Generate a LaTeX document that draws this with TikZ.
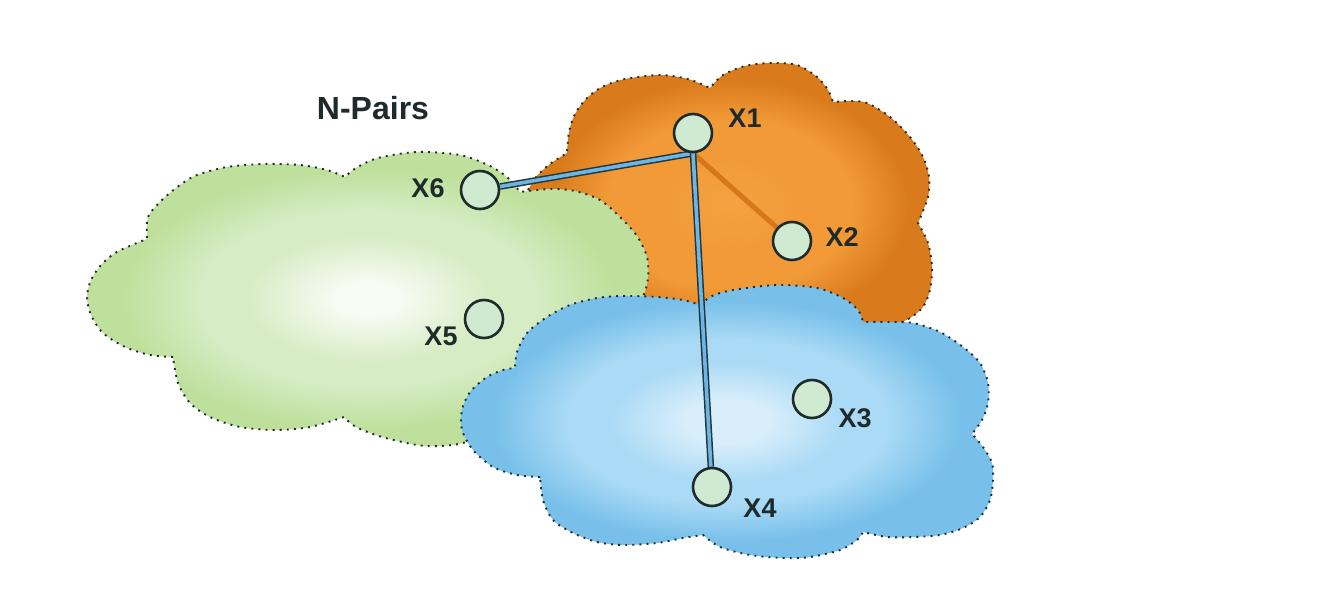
\documentclass[tikz,border=0pt]{standalone}
\usepackage{fontspec}
\setmainfont{Liberation Sans}
\definecolor{ink}{HTML}{1F2B2B}
\definecolor{nodefill}{HTML}{D0EAD2}
\definecolor{linkblue}{HTML}{6DB5E2}
\definecolor{linkedge}{HTML}{24363C}
\definecolor{orline}{HTML}{D5771A}
\definecolor{orin}{HTML}{F4A242}
\definecolor{ormid}{HTML}{F29A38}
\definecolor{orout}{HTML}{D97B1C}
\definecolor{grin}{HTML}{F7FBF2}
\definecolor{grmid}{HTML}{D6ECC4}
\definecolor{grout}{HTML}{BEE09C}
\definecolor{blin}{HTML}{D8EEFB}
\definecolor{blmid}{HTML}{AADAF5}
\definecolor{blout}{HTML}{78C0EA}
\pgfdeclareradialshading{orangeshade}{\pgfpoint{0bp}{0bp}}{color(0bp)=(orin); color(8bp)=(ormid); color(15bp)=(ormid); color(22bp)=(orout); color(50bp)=(orout)}
\pgfdeclareradialshading{greenshade}{\pgfpoint{0bp}{0bp}}{color(0bp)=(grin); color(3bp)=(grin); color(11bp)=(grmid); color(15bp)=(grmid); color(22bp)=(grout); color(50bp)=(grout)}
\pgfdeclareradialshading{blueshade}{\pgfpoint{0bp}{0bp}}{color(0bp)=(blin); color(4bp)=(blin); color(11bp)=(blmid); color(15bp)=(blmid); color(22bp)=(blout); color(50bp)=(blout)}
\pgfdeclarelayer{back}
\pgfdeclarelayer{edges}
\pgfsetlayers{back,edges,main}
\tikzset{
  cloudline/.style={draw=ink, line width=1.9pt, dash pattern=on 1.9pt off 5.2pt},
  pt/.style={circle, draw=ink, line width=2.6pt, fill=nodefill, minimum size=38pt, inner sep=0pt},
  lbl/.style={font=\bfseries\fontsize{27}{27}\selectfont, text=ink, anchor=base, inner sep=0pt},
  ttl/.style={font=\bfseries\fontsize{32}{32}\selectfont, text=ink, anchor=base, inner sep=0pt},
  bluelink/.style={draw=linkedge, line width=1.5pt, double=linkblue, double distance=3.6pt},
  orangelink/.style={draw=orline, line width=5pt}
}
\begin{document}
\begin{tikzpicture}[x=1pt, y=-1pt]
\begin{pgfonlayer}{back}
\useasboundingbox (0,0) rectangle (1337,615);
\fill[white] (0,0) rectangle (1337,615);
% orange cloud
\shade[cloudline, shading=orangeshade]
  plot[smooth] coordinates {(528,190) (537,176) (550,164) (567,153)}
  -- plot[smooth] coordinates {(567,153) (569,132) (575,114) (586,99) (602,87) (625,79) (660,75) (688,79) (710,88)}
  -- plot[smooth] coordinates {(710,88) (723,75) (745,66) (770,63) (797,65) (817,77) (828,90) (833,102)}
  -- plot[smooth] coordinates {(833,102) (850,101) (867,103) (890,117) (910,137) (923,157) (929,177) (928,197) (918,223)}
  -- plot[smooth] coordinates {(918,223) (928,243) (932,267) (930,290) (923,307) (910,318) (893,326)}
  -- plot[smooth] coordinates {(893,326) (860,340) (780,345) (700,335) (640,320) (605,270) (565,228) (538,205) (528,190)}
  -- cycle;
% green cloud
\shade[cloudline, shading=greenshade]
  plot[smooth] coordinates {(173,357) (150,355) (125,347) (103,333) (91,315) (87,297) (91,280) (101,265) (115,253) (132,245) (147,239)}
  -- plot[smooth] coordinates {(147,239) (148,217) (162,200) (180,185) (197,175) (227,167) (263,164) (300,165) (327,170) (345,177)}
  -- plot[smooth] coordinates {(345,177) (356,168) (378,158) (417,152) (460,155) (490,166) (508,178) (520,192)}
  -- plot[smooth] coordinates {(520,192) (550,189) (575,191) (600,200) (620,217) (637,236) (647,257) (648,278) (643,297) (630,322)}
  -- plot[smooth] coordinates {(630,322) (600,385) (545,418) (500,418)}
  -- plot[smooth] coordinates {(500,418) (485,433) (463,443) (440,446) (417,445) (382,437) (356,427) (344,417)}
  -- plot[smooth] coordinates {(344,417) (310,427) (275,430) (240,427) (210,417) (190,403) (178,383) (173,357)}
  -- cycle;
% blue cloud
\shade[cloudline, shading=blueshade]
  plot[smooth] coordinates {(540,477) (517,475) (493,467) (473,450) (462,430) (462,410) (470,392) (487,377) (503,370) (515,368)}
  -- plot[smooth] coordinates {(515,368) (517,352) (527,333) (547,317) (570,305) (597,298) (623,296) (657,297) (683,300) (700,305)}
  -- plot[smooth] coordinates {(700,305) (712,296) (733,290) (777,285) (817,288) (843,298) (858,310) (863,322)}
  -- plot[smooth] coordinates {(863,322) (887,322) (913,323) (940,332) (963,347) (980,363) (988,383) (988,403) (982,420) (972,434)}
  -- plot[smooth] coordinates {(972,434) (983,447) (992,463) (993,480) (990,500) (980,517) (963,528) (940,535) (913,537) (887,537) (863,532)}
  -- plot[smooth] coordinates {(863,532) (857,540) (840,550) (810,557) (783,558) (750,555) (720,547) (703,535)}
  -- plot[smooth] coordinates {(703,535) (683,538) (657,543) (623,545) (597,542) (573,533) (553,520) (543,500) (540,477)}
  -- cycle;
\end{pgfonlayer}
% nodes
\node[pt] (x1) at (693,133) {};
\node[pt] (x2) at (792,241) {};
\node[pt] (x3) at (812,399) {};
\node[pt] (x4) at (712,487) {};
\node[pt] (x5) at (484,319) {};
\node[pt] (x6) at (480,190) {};
% connectors
\begin{pgfonlayer}{edges}
\draw[orangelink] (x1.south) -- (x2);
\draw[bluelink] (x1.south) -- (x6);
\draw[bluelink] (x1.south) -- (x4);
\end{pgfonlayer}
% labels
\node[lbl] (l1) at (745,128) {X1};
\node[lbl] (l2) at (842,246) {X2};
\node[lbl] (l3) at (855,427) {X3};
\node[lbl] (l4) at (760,517) {X4};
\node[lbl] (l5) at (441,345) {X5};
\node[lbl] (l6) at (428,197) {X6};
\node[ttl] (title) at (373,119) {N-Pairs};
\end{tikzpicture}
\end{document}
